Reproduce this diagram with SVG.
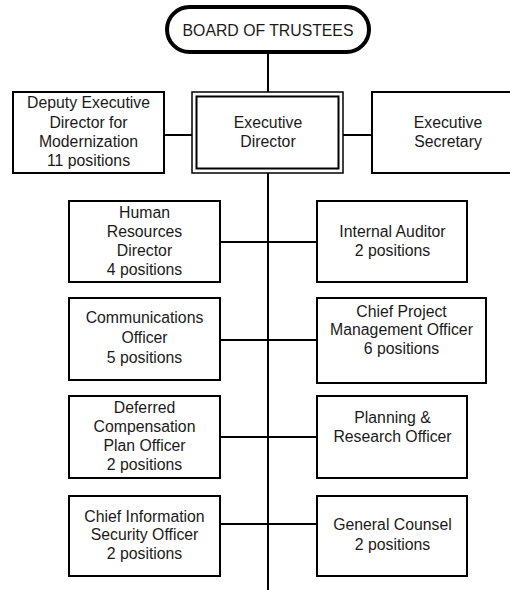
<svg xmlns="http://www.w3.org/2000/svg" width="510" height="590" viewBox="0 0 510 590">
<style>
  .box { fill: #fff; stroke: #000; stroke-width: 2; }
  .t { font-family: "Liberation Sans", Arial, sans-serif; font-size: 15.8px; fill: #1a1a1a; text-anchor: middle; }
  .c { stroke: #000; stroke-width: 2; fill: none; }
</style>
<rect width="510" height="590" fill="#fff"/>
<g id="connectors">
  <line class="c" x1="268" y1="53" x2="268" y2="92"/>
  <line class="c" x1="268" y1="173" x2="268" y2="590"/>
  <line class="c" x1="164" y1="135" x2="192" y2="135"/>
  <line class="c" x1="343" y1="135" x2="372" y2="135"/>
  <line class="c" x1="220" y1="242" x2="317" y2="242"/>
  <line class="c" x1="220" y1="340" x2="317" y2="340"/>
  <line class="c" x1="220" y1="437" x2="317" y2="437"/>
  <line class="c" x1="220" y1="524" x2="317" y2="524"/>
</g>
<g id="board">
  <rect x="167" y="7" width="202" height="45" rx="22.5" ry="22.5" fill="#fff" stroke="#000" stroke-width="4"/>
  <text class="t" x="268" y="36">BOARD OF TRUSTEES</text>
</g>
<g id="deputy">
  <rect class="box" x="13" y="92" width="151" height="81"/>
  <text class="t" x="88.5" y="108">Deputy Executive</text>
  <text class="t" x="88.5" y="128">Director for</text>
  <text class="t" x="88.5" y="147">Modernization</text>
  <text class="t" x="88.5" y="166">11 positions</text>
</g>
<g id="executive-director">
  <rect x="192" y="92" width="151" height="81" fill="#fff" stroke="#000" stroke-width="1.5"/>
  <rect x="196.5" y="96.5" width="142" height="72" fill="none" stroke="#000" stroke-width="2"/>
  <text class="t" x="268" y="128">Executive</text>
  <text class="t" x="268" y="147">Director</text>
</g>
<g id="executive-secretary">
  <rect class="box" x="372" y="92" width="152" height="81"/>
  <text class="t" x="448" y="128">Executive</text>
  <text class="t" x="448" y="147">Secretary</text>
</g>
<g id="hr">
  <rect class="box" x="69" y="201" width="151" height="81"/>
  <text class="t" x="144.5" y="218">Human</text>
  <text class="t" x="144.5" y="237">Resources</text>
  <text class="t" x="144.5" y="256">Director</text>
  <text class="t" x="144.5" y="275">4 positions</text>
</g>
<g id="internal-auditor">
  <rect class="box" x="317" y="201" width="150" height="81"/>
  <text class="t" x="392.5" y="237">Internal Auditor</text>
  <text class="t" x="392.5" y="256">2 positions</text>
</g>
<g id="communications">
  <rect class="box" x="69" y="298" width="151" height="82"/>
  <text class="t" x="144.5" y="323">Communications</text>
  <text class="t" x="144.5" y="343">Officer</text>
  <text class="t" x="144.5" y="363">5 positions</text>
</g>
<g id="chief-pm">
  <rect class="box" x="317" y="298" width="169" height="85"/>
  <text class="t" x="401.5" y="317">Chief Project</text>
  <text class="t" x="401.5" y="335">Management Officer</text>
  <text class="t" x="401.5" y="354">6 positions</text>
</g>
<g id="deferred-comp">
  <rect class="box" x="69" y="396" width="151" height="82"/>
  <text class="t" x="144.5" y="413">Deferred</text>
  <text class="t" x="144.5" y="432">Compensation</text>
  <text class="t" x="144.5" y="451">Plan Officer</text>
  <text class="t" x="144.5" y="470">2 positions</text>
</g>
<g id="planning">
  <rect class="box" x="317" y="396" width="150" height="82"/>
  <text class="t" x="392.5" y="423">Planning &amp;</text>
  <text class="t" x="392.5" y="442">Research Officer</text>
</g>
<g id="ciso">
  <rect class="box" x="69" y="496" width="151" height="80"/>
  <text class="t" x="144.5" y="522">Chief Information</text>
  <text class="t" x="144.5" y="540">Security Officer</text>
  <text class="t" x="144.5" y="559">2 positions</text>
</g>
<g id="general-counsel">
  <rect class="box" x="317" y="496" width="150" height="80"/>
  <text class="t" x="392.5" y="530">General Counsel</text>
  <text class="t" x="392.5" y="550">2 positions</text>
</g>
</svg>
